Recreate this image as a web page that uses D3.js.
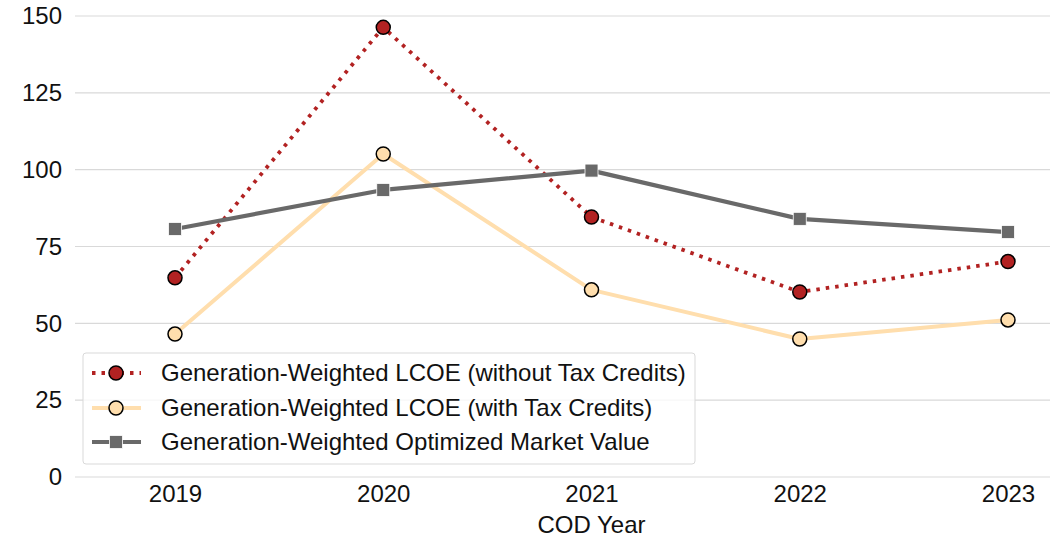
<!DOCTYPE html>
<html><head><meta charset="utf-8">
<script src="https://cdn.jsdelivr.net/npm/d3@7"></script>
<style>body{margin:0;background:#fff}svg{display:block;font-family:"Liberation Sans",Arial,sans-serif}</style>
</head><body><svg id="c" width="1053" height="539"></svg>
<script>
const years = ["2019","2020","2021","2022","2023"];
const lcoeNoCredits = [64.8, 146.3, 84.6, 60.2, 70.1];
const lcoeWithCredits = [46.5, 105.1, 60.9, 44.9, 51.1];
const marketValue = [80.7, 93.4, 99.7, 84.0, 79.7];
const yTicks = [0,25,50,75,100,125,150];
const seriesNames = ["Generation-Weighted LCOE (without Tax Credits)","Generation-Weighted LCOE (with Tax Credits)","Generation-Weighted Optimized Market Value"];

const FS = 24;
const svg = d3.select("#c");
const x = d3.scalePoint().domain(years).range([175,1008]);
const y = d3.scaleLinear().domain([0,150]).range([477,16]);
const gx0 = 75, gx1 = 1050;

svg.append("g").selectAll("line").data(yTicks).join("line")
  .attr("x1",gx0).attr("x2",gx1).attr("y1",d=>y(d)).attr("y2",d=>y(d))
  .attr("stroke","#d9d9d9").attr("stroke-width",1.2);

const ya = svg.append("g").attr("transform",`translate(${gx0},0)`)
  .call(d3.axisLeft(y).tickValues(yTicks).tickSize(0).tickPadding(13));
ya.select(".domain").remove();
ya.selectAll("text").attr("font-size",FS).attr("fill","#111").attr("font-family","Liberation Sans, Arial, sans-serif");

const xa = svg.append("g").attr("transform",`translate(0,477)`)
  .call(d3.axisBottom(x).tickSize(0).tickPadding(8));
xa.select(".domain").remove();
xa.selectAll("text").attr("font-size",FS).attr("fill","#111").attr("font-family","Liberation Sans, Arial, sans-serif");

svg.append("text").attr("x",x("2021")).attr("y",533).attr("text-anchor","middle")
  .attr("font-size",FS).attr("fill","#111").text("COD Year");

const series = [
  {name:seriesNames[0], values:lcoeNoCredits, color:"#b22222", dash:"3.5,6", width:3.8, marker:"circle", fill:"#b22222"},
  {name:seriesNames[1], values:lcoeWithCredits, color:"#ffdead", dash:null, width:4, marker:"circle", fill:"#ffdead"},
  {name:seriesNames[2], values:marketValue, color:"#696969", dash:null, width:4.2, marker:"square", fill:"#696969"}
];
const line = d3.line().x((d,i)=>x(years[i])).y(d=>y(d));

series.forEach(s=>{
  const g = svg.append("g");
  g.append("path").datum(s.values).attr("d",line).attr("fill","none")
    .attr("stroke",s.color).attr("stroke-width",s.width)
    .attr("stroke-dasharray",s.dash).attr("stroke-linejoin","round");
  if(s.marker==="circle"){
    g.selectAll("circle").data(s.values).join("circle")
      .attr("cx",(d,i)=>x(years[i])).attr("cy",d=>y(d)).attr("r",7)
      .attr("fill",s.fill).attr("stroke","#000").attr("stroke-width",1.5);
  } else {
    g.selectAll("rect").data(s.values).join("rect")
      .attr("x",(d,i)=>x(years[i])-6.5).attr("y",d=>y(d)-6.5).attr("width",13).attr("height",13)
      .attr("fill",s.fill).attr("stroke","#fff").attr("stroke-width",0.8);
  }
});

const lg = svg.append("g");
lg.append("rect").attr("x",83).attr("y",353).attr("width",612).attr("height",111).attr("rx",3)
  .attr("fill","rgba(255,255,255,0.8)").attr("stroke","#d9d9d9").attr("stroke-width",1);
const rowsY = [373,408,442];
series.forEach((s,i)=>{
  const yy = rowsY[i];
  lg.append("line").attr("x1",92).attr("x2",141).attr("y1",yy).attr("y2",yy)
    .attr("stroke",s.color).attr("stroke-width",s.width).attr("stroke-dasharray",s.dash);
  if(s.marker==="circle"){
    lg.append("circle").attr("cx",116).attr("cy",yy).attr("r",7).attr("fill",s.fill).attr("stroke","#000").attr("stroke-width",1.5);
  } else {
    lg.append("rect").attr("x",109.5).attr("y",yy-6.5).attr("width",13).attr("height",13).attr("fill",s.fill).attr("stroke","#fff").attr("stroke-width",0.8);
  }
  lg.append("text").attr("x",161).attr("y",yy).attr("dy","0.35em").attr("font-size",FS).attr("fill","#111").text(s.name);
});
</script></body></html>
